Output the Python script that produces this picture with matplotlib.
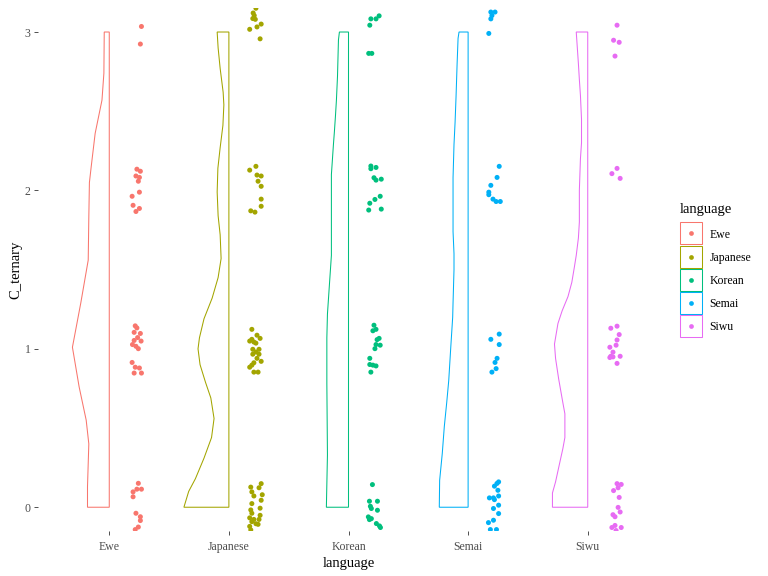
import matplotlib
matplotlib.use("Agg")
import matplotlib.pyplot as plt
from matplotlib.patches import Polygon
from matplotlib.lines import Line2D

# === DATA === #
languages = ["Ewe", "Japanese", "Korean", "Semai", "Siwu"]
colors = ["#F8766D", "#A3A500", "#00BF7D", "#00B0F6", "#E76BF3"]
y_ticks = [0, 1, 2, 3]

# jittered points (value, horizontal offset from the category)
ewe_y = [3.035, 2.924,
         2.134, 2.121, 2.091, 2.082, 2.058, 1.989, 1.963, 1.906, 1.886, 1.867,
         1.145, 1.132, 1.104, 1.097, 1.071, 1.053, 1.049, 1.027, 1.016, 1.001, 0.914, 0.884, 0.879, 0.847, 0.847,
         0.151, 0.114, 0.114, 0.097, 0.066, -0.038, -0.060, -0.084, -0.125, -0.141]
ewe_dx = [0.269, 0.260,
          0.231, 0.260, 0.223, 0.252, 0.243, 0.252, 0.191, 0.199, 0.252, 0.223,
          0.217, 0.231, 0.208, 0.260, 0.237, 0.208, 0.266, 0.194, 0.223, 0.243, 0.191, 0.217, 0.252, 0.208, 0.269,
          0.243, 0.269, 0.231, 0.199, 0.199, 0.223, 0.260, 0.260, 0.243, 0.217]

japanese_y = [3.150, 3.120, 3.104, 3.085, 3.080, 3.017, 3.032, 3.050, 2.957,
              2.152, 2.128, 2.097, 2.091, 2.058, 2.026, 1.945, 1.900, 1.871, 1.863,
              1.123, 1.086, 1.060, 1.066, 1.043, 1.036, 1.049, 0.997, 0.997, 0.980, 0.966, 0.966, 0.940, 0.921,
              0.912, 0.897, 0.884, 0.853, 0.853,
              0.149, 0.123, 0.127, 0.097, 0.071, 0.079, 0.044, 0.023, -0.006, -0.017, -0.038, -0.051, -0.067,
              -0.077, -0.091, -0.104, -0.121, -0.143, -0.108, -0.077]
japanese_dx = [0.226, 0.203, 0.212, 0.200, 0.221, 0.174, 0.235, 0.270, 0.261,
               0.226, 0.174, 0.235, 0.270, 0.244, 0.270, 0.270, 0.270, 0.183, 0.218,
               0.192, 0.235, 0.192, 0.261, 0.209, 0.226, 0.174, 0.200, 0.252, 0.226, 0.200, 0.252, 0.235, 0.270,
               0.209, 0.192, 0.174, 0.209, 0.244,
               0.270, 0.252, 0.183, 0.192, 0.209, 0.279, 0.270, 0.192, 0.261, 0.183, 0.192, 0.261, 0.174,
               0.252, 0.192, 0.226, 0.174, 0.183, 0.244, 0.209]

korean_y = [3.102, 3.083, 3.083, 3.043, 2.865, 2.865,
            2.154, 2.137, 2.145, 2.080, 2.065, 2.071, 1.963, 1.943, 1.919, 1.876, 1.882,
            1.149, 1.123, 1.114, 1.066, 1.058, 1.027, 1.023, 1.001, 0.940, 0.901, 0.897, 0.892, 0.853,
            0.143, 0.038, 0.038, 0.006, -0.008, -0.019, -0.061, -0.072, -0.078, -0.103, -0.128, -0.118]
korean_dx = [0.256, 0.230, 0.187, 0.178, 0.169, 0.195,
             0.187, 0.187, 0.230, 0.213, 0.230, 0.274, 0.265, 0.221, 0.178, 0.169, 0.274,
             0.213, 0.230, 0.204, 0.256, 0.239, 0.230, 0.265, 0.221, 0.178, 0.178, 0.204, 0.230, 0.187,
             0.200, 0.175, 0.242, 0.183, 0.191, 0.242, 0.166, 0.191, 0.175, 0.233, 0.267, 0.259]

semai_y = [3.126, 3.126, 3.104, 3.083, 2.991,
           2.152, 2.082, 2.032, 1.989, 1.973, 1.945, 1.930, 1.930,
           1.093, 1.060, 1.027, 0.940, 0.914, 0.875, 0.853,
           0.160, 0.150, 0.133, 0.107, 0.059, 0.059, 0.071, 0.048, -0.008, 0.013, -0.040, -0.097, -0.082,
           -0.141, -0.141]
semai_dx = [0.190, 0.225, 0.199, 0.190, 0.173,
            0.260, 0.242, 0.190, 0.173, 0.173, 0.208, 0.234, 0.269,
            0.260, 0.190, 0.260, 0.242, 0.225, 0.234, 0.199,
            0.255, 0.241, 0.220, 0.249, 0.212, 0.178, 0.255, 0.220, 0.212, 0.255, 0.255, 0.170, 0.212,
            0.186, 0.237]

siwu_y = [3.043, 2.948, 2.935, 2.848,
          2.139, 2.106, 2.076,
          1.143, 1.130, 1.090, 1.056, 1.010, 1.023, 0.979, 0.953, 0.945, 0.949, 0.953, 0.908,
          0.149, 0.144, 0.123, 0.105, 0.062, -0.001, -0.030, -0.047, -0.060, -0.115, -0.128, -0.128, -0.147]
siwu_dx = [0.245, 0.216, 0.263, 0.228,
           0.245, 0.202, 0.271,
           0.245, 0.193, 0.263, 0.245, 0.185, 0.237, 0.211, 0.193, 0.185, 0.211, 0.271, 0.245,
           0.245, 0.280, 0.254, 0.216, 0.263, 0.254, 0.271, 0.211, 0.228, 0.228, 0.202, 0.280, 0.237]

# half-violin outline: value level and half width (x units)
ewe_vy = [3.0, 2.74, 2.57, 2.36, 2.15, 2.05, 1.83, 1.56, 1.29, 1.01, 0.76, 0.55, 0.4, 0.13, 0.0]
ewe_vw = [0.042, 0.045, 0.061, 0.118, 0.151, 0.166, 0.171, 0.176, 0.238, 0.308, 0.252, 0.193, 0.171, 0.182, 0.182]

japanese_vy = [3.0, 2.90, 2.77, 2.62, 2.54, 2.41, 2.27, 2.14, 1.99, 1.84, 1.72, 1.57, 1.45, 1.32, 1.19,
               1.07, 1.00, 0.90, 0.79, 0.69, 0.56, 0.44, 0.31, 0.18, 0.10, 0.0]
japanese_vw = [0.098, 0.090, 0.073, 0.048, 0.042, 0.050, 0.073, 0.092, 0.098, 0.090, 0.073, 0.065, 0.090,
               0.140, 0.208, 0.246, 0.258, 0.241, 0.196, 0.151, 0.124, 0.145, 0.208, 0.280, 0.336, 0.376]

korean_vy = [3.0, 2.95, 2.72, 2.57, 2.47, 2.37, 2.29, 2.20, 2.10, 1.59, 1.50, 1.40, 1.31, 1.22, 1.07,
             0.78, 0.33, 0.0]
korean_vw = [0.076, 0.084, 0.092, 0.101, 0.109, 0.118, 0.126, 0.134, 0.143, 0.143, 0.151, 0.160, 0.168,
             0.176, 0.181, 0.181, 0.176, 0.185]

semai_vy = [3.0, 2.96, 2.80, 2.59, 2.43, 2.29, 2.08, 1.74, 1.6, 1.5, 1.29, 1.2, 1.01, 0.80, 0.66, 0.51,
            0.34, 0.17, 0.0]
semai_vw = [0.076, 0.084, 0.092, 0.101, 0.109, 0.118, 0.126, 0.126, 0.118, 0.118, 0.126, 0.129, 0.145,
            0.162, 0.179, 0.199, 0.216, 0.238, 0.241]

siwu_vy = [3.0, 2.9, 2.8, 2.7, 2.6, 2.45, 2.3, 2.2, 2.0, 1.8, 1.7, 1.59, 1.51, 1.42, 1.33, 1.24, 1.16,
           1.03, 0.94, 0.81, 0.66, 0.59, 0.44, 0.37, 0.25, 0.16, 0.09, 0.0]
siwu_vw = [0.096, 0.087, 0.078, 0.070, 0.061, 0.052, 0.052, 0.061, 0.070, 0.070, 0.078, 0.096, 0.113,
           0.133, 0.165, 0.214, 0.249, 0.278, 0.269, 0.243, 0.208, 0.191, 0.191, 0.208, 0.243, 0.269,
           0.295, 0.295]

points = {"Ewe": (ewe_y, ewe_dx), "Japanese": (japanese_y, japanese_dx), "Korean": (korean_y, korean_dx),
          "Semai": (semai_y, semai_dx), "Siwu": (siwu_y, siwu_dx)}
violins = {"Ewe": (ewe_vy, ewe_vw), "Japanese": (japanese_vy, japanese_vw), "Korean": (korean_vy, korean_vw),
           "Semai": (semai_vy, semai_vw), "Siwu": (siwu_vy, siwu_vw)}

# === PLOT === #
plt.rcParams['font.family'] = ['Liberation Serif', 'DejaVu Serif']

fig = plt.figure(figsize=(7.68, 5.76), dpi=100)
ax = fig.add_axes([37.5 / 768, 45 / 576, 622 / 768, 522.75 / 576])

for i, (lang, col) in enumerate(zip(languages, colors)):
    vy, vw = violins[lang]
    outline = sorted(zip(vy, vw))
    verts = [(i, outline[0][0])] + [(i - w, y) for y, w in outline] + [(i, outline[-1][0])]
    ax.add_patch(Polygon(verts, closed=True, facecolor='none', edgecolor=col, lw=0.75))

    py, pdx = points[lang]
    ax.scatter([i + d for d in pdx], py, s=13, color=col, edgecolors='none', zorder=3)

ax.set_xlim(-0.6, len(languages) - 0.4)
ax.set_ylim(-0.15, 3.15)
ax.set_xticks(range(len(languages)))
ax.set_xticklabels(languages)
ax.set_yticks(y_ticks)
for s in ax.spines.values():
    s.set_visible(False)
ax.tick_params(length=2.7, width=0.6, color='#333333', labelcolor='#4D4D4D', labelsize=8.5)
ax.tick_params(axis='x', pad=4.2)
ax.tick_params(axis='y', pad=2.2)
ax.set_xlabel("language", fontsize=10.5, labelpad=3.5)
ax.set_ylabel("C_ternary", fontsize=10.5, labelpad=2)

# legend: title placed separately, keys are an outlined square with a dot in the middle
fig.text(680 / 768, 1 - 209 / 576, "language", fontsize=10.5, va='center', ha='left')
handles = [(Line2D([], [], marker='s', ls='none', markersize=15.8, markerfacecolor='none',
                   markeredgecolor=c, markeredgewidth=0.75),
            Line2D([], [], marker='o', ls='none', color=c, markersize=3.4, markeredgewidth=0))
           for c in colors]
leg = fig.legend(handles, languages, loc='upper left', bbox_to_anchor=(680 / 768, 1 - 228.5 / 576),
                 frameon=False, fontsize=8.5, handlelength=1.86, handleheight=0.7,
                 labelspacing=0.95, handletextpad=0.62, borderpad=0, borderaxespad=0, numpoints=1)

fig.savefig("out.png", dpi=100)
